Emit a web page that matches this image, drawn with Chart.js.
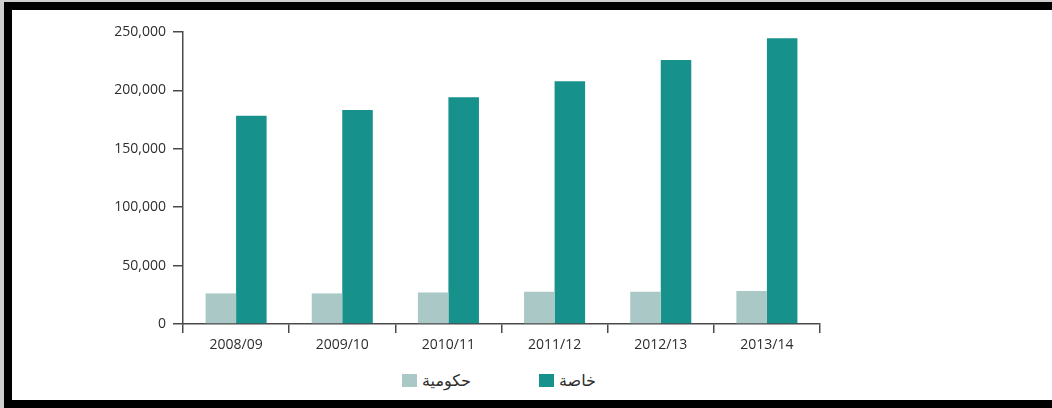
<!DOCTYPE html>
<html>
<head>
<meta charset="utf-8">
<script src="https://cdn.jsdelivr.net/npm/chart.js@4.4.1/dist/chart.umd.min.js"></script>
<style>
  html, body { margin: 0; padding: 0; }
  body { width: 1052px; height: 408px; background: #cfcfcf; overflow: hidden; position: relative; }
  .frame {
    position: absolute; left: 4px; top: 2px; width: 1100px; height: 406px;
    border: 8px solid #000; border-right: none; box-sizing: border-box; background: #fff;
  }
  #wrap { position: absolute; left: 12px; top: 10px; width: 1040px; height: 350px; }
  .legend-item {
    position: absolute; top: 371px; display: flex; align-items: center;
    font-family: "DejaVu Sans", "Noto Sans", sans-serif; font-size: 16px; color: #2e2e2e;
  }
  .legend-item .box { width: 15px; height: 13px; margin-right: 5px; }
</style>
</head>
<body>
<div class="frame"></div>
<div id="wrap"><canvas id="chart"></canvas></div>
<div class="legend-item" style="left:402px"><span class="box" style="background:#a9c8c6"></span><span dir="rtl">حكومية</span></div>
<div class="legend-item" style="left:539px"><span class="box" style="background:#17918b"></span><span dir="rtl">خاصة</span></div>
<script>
// Data
const years = ['2008/09', '2009/10', '2010/11', '2011/12', '2012/13', '2013/14'];
const govValues = [26200, 26200, 27000, 27700, 27700, 28200];
const privateValues = [178300, 183200, 194100, 207800, 226000, 244600];
const govLabel = 'حكومية';
const privateLabel = 'خاصة';

const axisColor = '#4a4a4a';
const textColor = '#2e2e2e';
const font = { family: '"Open Sans", sans-serif', size: 14 };

const ctx = document.getElementById('chart').getContext('2d');
const chart = new Chart(ctx, {
    type: 'bar',
    data: {
        labels: years,
        datasets: [{
            label: govLabel,
            data: govValues,
            backgroundColor: '#a9c8c6',
            borderWidth: 0
        }, {
            label: privateLabel,
            data: privateValues,
            backgroundColor: '#17918b',
            borderWidth: 0
        }]
    },
    options: {
        responsive: true,
        maintainAspectRatio: false,
        animation: false,
        categoryPercentage: 0.575,
        barPercentage: 1,
        layout: { padding: { top: 22, right: 232, left: 0, bottom: 0 } },
        plugins: {
            legend: { display: false },
            tooltip: { enabled: false }
        },
        scales: {
            x: {
                offset: true,
                grid: {
                    offset: true,
                    drawOnChartArea: false,
                    drawTicks: true,
                    tickLength: 9,
                    color: axisColor,
                    lineWidth: 1.5
                },
                border: { color: axisColor, width: 1.5 },
                ticks: { color: textColor, font: font, padding: 4, maxRotation: 0 },
                afterFit: scale => { scale.height = 36; }
            },
            y: {
                min: 0,
                max: 250000,
                grid: {
                    drawOnChartArea: false,
                    drawTicks: true,
                    tickLength: 10,
                    color: axisColor,
                    lineWidth: 1.5
                },
                border: { color: axisColor, width: 1.5 },
                ticks: {
                    stepSize: 50000,
                    color: textColor,
                    font: font,
                    padding: 7,
                    callback: v => v.toLocaleString('en-US')
                },
                afterFit: scale => { scale.width = 171; }
            }
        }
    }
});
</script>
</body>
</html>
